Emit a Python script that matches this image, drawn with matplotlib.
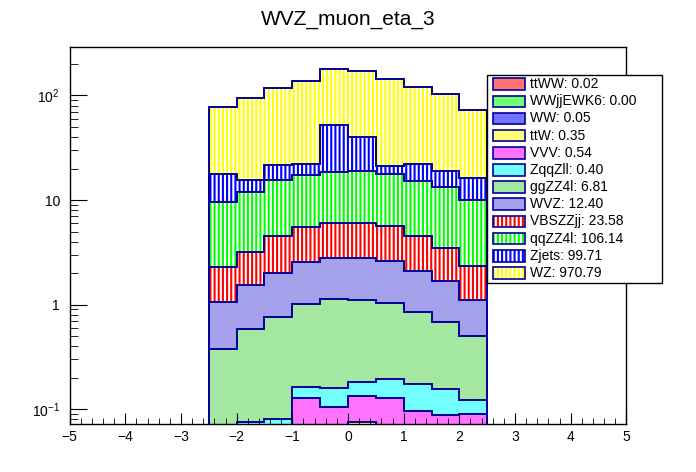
import numpy as np
import matplotlib
matplotlib.use("Agg")
import matplotlib.pyplot as plt
from matplotlib.patches import Rectangle
from matplotlib.ticker import MultipleLocator, FixedLocator, LogLocator, NullFormatter

plt.rcParams['font.family'] = ['Liberation Sans', 'DejaVu Sans']
plt.rcParams['mathtext.fontset'] = 'custom'
plt.rcParams['mathtext.rm'] = 'Liberation Sans'
plt.rcParams['hatch.linewidth'] = 1.5

# ---------------------histogram contents (eta bins -2.5..2.5)---------------------
edges = np.array([-2.5, -2.0, -1.5, -1.0, -0.5, 0.0, 0.5, 1.0, 1.5, 2.0, 2.5])

ttWW     = [0.001, 0.002, 0.002, 0.002, 0.003, 0.003, 0.002, 0.002, 0.002, 0.001]
WWjjEWK6 = [0.0, 0.0, 0.0, 0.0, 0.0, 0.0, 0.0, 0.0, 0.0, 0.0]
WW       = [0.003, 0.004, 0.005, 0.005, 0.006, 0.006, 0.006, 0.005, 0.005, 0.005]
ttW      = [0.010, 0.015, 0.020, 0.040, 0.035, 0.067, 0.045, 0.040, 0.035, 0.035]
VVV      = [0.010, 0.012, 0.013, 0.082, 0.062, 0.059, 0.074, 0.050, 0.047, 0.050]
ZqqZll   = [0.021, 0.043, 0.040, 0.036, 0.055, 0.049, 0.069, 0.079, 0.069, 0.033]
ggZZ4l   = [0.335, 0.514, 0.688, 0.857, 0.970, 0.932, 0.849, 0.681, 0.519, 0.382]
WVZ      = [0.69, 0.94, 1.25, 1.55, 1.68, 1.69, 1.59, 1.25, 1.02, 0.61]
VBSZZjj  = [1.24, 1.68, 2.54, 2.99, 3.21, 3.21, 3.05, 2.45, 1.80, 1.24]
qqZZ4l   = [7.33, 8.69, 11.04, 11.90, 12.63, 13.04, 12.17, 10.61, 9.90, 7.71]
Zjets    = [8.21, 3.70, 6.20, 4.74, 33.75, 21.24, 3.45, 7.03, 5.70, 6.03]
WZ       = [60.2, 79.4, 96.5, 115.8, 127.6, 129.1, 121.7, 98.8, 82.9, 56.9]

names  = ['ttWW', 'WWjjEWK6', 'WW', 'ttW', 'VVV', 'ZqqZll', 'ggZZ4l', 'WVZ',
          'VBSZZjj', 'qqZZ4l', 'Zjets', 'WZ']
totals = ['0.02', '0.00', '0.05', '0.35', '0.54', '0.40', '6.81', '12.40',
          '23.58', '106.14', '99.71', '970.79']
series = [ttWW, WWjjEWK6, WW, ttW, VVV, ZqqZll, ggZZ4l, WVZ, VBSZZjj, qqZZ4l, Zjets, WZ]

# colours: checker fills shown as blend with white, line fills as hatches
colors = ['#ff0000', '#00ff00', '#0000ff', '#ffff00', '#ff00ff', '#00ffff',
          '#59d454', '#5954d9', '#ff0000', '#00ff00', '#0000ff', '#ffff00']
hatched = [False]*8 + [True]*4
outline = '#000099'

def blend(c):
    r, g, b = matplotlib.colors.to_rgb(c)
    return (0.45 + 0.55*r, 0.45 + 0.55*g, 0.45 + 0.55*b)

fig = plt.figure(figsize=(6.96, 4.72), dpi=100)
ax = fig.add_axes([0.1, 0.1017, 0.8, 0.7987])

cum = np.cumsum(np.array(series), axis=0)
base = 1e-4
# draw from top of stack down, like THStack
for i in range(len(series) - 1, -1, -1):
    if hatched[i]:
        ax.stairs(cum[i], edges, baseline=base, fill=True, facecolor='white',
                  edgecolor=colors[i], hatch='||||', linewidth=0)
    else:
        ax.stairs(cum[i], edges, baseline=base, fill=True,
                  facecolor=blend(colors[i]), linewidth=0)
    ax.stairs(cum[i], edges, baseline=base, fill=False, color=outline, linewidth=1.4)

ax.set_yscale('log')
ax.set_xlim(-5, 5)
ax.set_ylim(0.0724, 290)

ax.xaxis.set_major_locator(MultipleLocator(1))
ax.xaxis.set_minor_locator(MultipleLocator(0.2))
ax.yaxis.set_major_locator(FixedLocator([0.1, 1, 10, 100]))
ax.set_yticklabels(['$10^{-1}$', '1', '10', '$10^{2}$'])
ax.yaxis.set_minor_locator(LogLocator(base=10, subs=np.arange(2, 10)))
ax.yaxis.set_minor_formatter(NullFormatter())

ax.tick_params(which='both', direction='in', top=False, right=False, labelsize=10, color='black')
ax.tick_params(axis='x', which='major', length=8, pad=4)
ax.tick_params(axis='x', which='minor', length=4)
ax.tick_params(axis='y', which='major', length=12, pad=7)
ax.tick_params(axis='y', which='minor', length=6)
for s in ax.spines.values():
    s.set_linewidth(1.0)

fig.text(0.5, 0.958, 'WVZ_muon_eta_3', ha='center', va='center', fontsize=15)

# legend box, figure coordinates
W, H = 696.0, 472.0
fig.patches.append(Rectangle((487/W, 1 - 283/H), 175/W, 208/H, transform=fig.transFigure,
                             facecolor='white', edgecolor='black', linewidth=1.0, zorder=5))
for i, name in enumerate(names):
    yc = 84.2 + i*17.15
    if hatched[i]:
        sw = Rectangle((493/W, 1 - (yc + 5.8)/H), 31.5/W, 11.6/H, transform=fig.transFigure,
                       facecolor='white', edgecolor=colors[i], hatch='||||', linewidth=0, zorder=6)
    else:
        sw = Rectangle((493/W, 1 - (yc + 5.8)/H), 31.5/W, 11.6/H, transform=fig.transFigure,
                       facecolor=blend(colors[i]), linewidth=0, zorder=6)
    fig.patches.append(sw)
    fig.patches.append(Rectangle((493/W, 1 - (yc + 5.8)/H), 31.5/W, 11.6/H, transform=fig.transFigure,
                                 fill=False, edgecolor=outline, linewidth=1.2, zorder=7))
    fig.text(530.5/W, 1 - yc/H, name + ': ' + totals[i], ha='left', va='center',
             fontsize=10, zorder=8)

fig.savefig('out.png', dpi=100)
